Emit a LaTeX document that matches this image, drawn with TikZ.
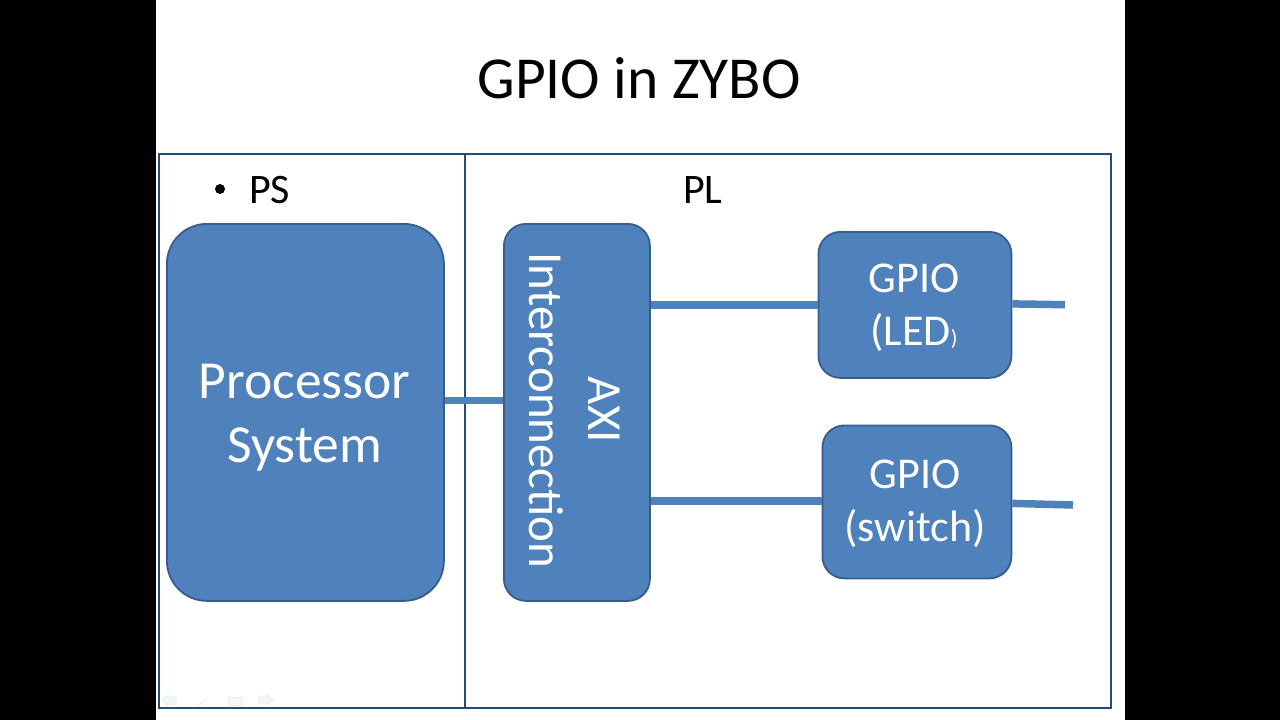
\documentclass[tikz,border=0pt]{standalone}
\usepackage{fontspec}
\setmainfont{Carlito}
\definecolor{boxfill}{RGB}{79,129,189}
\definecolor{boxedge}{RGB}{56,93,138}
\definecolor{panel}{RGB}{37,75,120}
\definecolor{navfaint}{RGB}{236,238,241}
\tikzset{
  px/.style={x=1pt,y=-1pt},
  block/.style={draw=boxedge,line width=1.8pt,fill=boxfill,text=white,rounded corners=#1,align=center,inner sep=0pt,anchor=north west},
  link/.style={draw=boxfill,line width=7.5pt},
  panelline/.style={draw=panel,line width=2.2pt},
  label/.style={text=black,inner sep=0pt},
  navicon/.style={draw=navfaint,fill=navfaint!50,line width=1pt}
}
\begin{document}
\begin{tikzpicture}[px]
\useasboundingbox (0,0) rectangle (1280,720);
\fill[black] (0,0) rectangle (156,720);
\fill[black] (1125,0) rectangle (1280,720);
\fill[white] (156,0) rectangle (1125,720);
% navigation icons
\draw[navicon] (162,699) -- (168,695) -- (168,697) -- (176,697) -- (176,704) -- (168,704) -- (168,706) -- cycle;
\draw[navicon] (198,706) -- (208,698);
\draw[navicon] (228,697) rectangle (242,705);
\draw[navicon] (259,696) -- (267,696) -- (267,694) -- (273,700) -- (267,705) -- (267,703) -- (259,703) -- cycle;
% panel
\node[panelline,minimum width=952pt,minimum height=554pt,anchor=north west,inner sep=0pt,outer sep=0pt] (frame) at (159,154) {};
\coordinate (divtop) at (465,154);
\coordinate (divbot) at (465,708);
\draw[panelline] (divtop) -- (divbot);
% labels
\node[label,font=\fontsize{59.5}{60}\selectfont] (title) at (639,78) {GPIO in ZYBO};
\node[label,font=\fontsize{42}{40}\selectfont,anchor=base west] (ps) at (249,203) {PS};
\node[label,font=\fontsize{42}{40}\selectfont,anchor=base west] (pl) at (683,203) {PL};
\fill[black] (220,189) circle (5pt);
% blocks
\node[block=40pt,minimum width=277pt,minimum height=377pt] (proc) at (166,223) {};
\node[block=22pt,minimum width=146pt,minimum height=377pt] (axi) at (503,223) {};
\node[block=22pt,minimum width=193pt,minimum height=146pt] (led) at (817.5,231) {};
\node[block=22pt,minimum width=189pt,minimum height=153pt] (sw) at (821.5,424.5) {};
% connectors
\coordinate (ledout) at (1065,304.7);
\coordinate (swout) at (1073,505);
\draw[link] ([yshift=12pt]proc.east) -- ([yshift=12pt]proc.east -| axi.west);
\draw[link] (axi.east |- led.west) -- (led.west);
\draw[link] ([yshift=1pt]axi.east |- sw.west) -- ([yshift=1pt]sw.west);
\draw[link] ([yshift=1pt]led.east) -- (ledout);
\draw[link] ([yshift=-1.5pt]sw.east) -- (swout);
% block texts
\node[text=white,inner sep=0pt,font=\fontsize{53.5}{64}\selectfont,align=center] (proct) at (304.5,418) {Processor\\System};
\node[text=white,inner sep=0pt,font=\fontsize{49}{1}\selectfont,rotate=-90] (axia) at (604,410) {AXI};
\node[text=white,inner sep=0pt,font=\fontsize{49}{1}\selectfont,rotate=-90] (axib) at (546,410.5) {Interconnection};
\node[text=white,inner sep=0pt,font=\fontsize{44}{53}\selectfont,align=center] (ledt) at (914,307.5) {GPIO\\(LED{\fontsize{22}{22}\selectfont)}};
\node[text=white,inner sep=0pt,font=\fontsize{44}{53}\selectfont,align=center] (swt) at (915,504) {GPIO\\(switch)};
\end{tikzpicture}
\end{document}
